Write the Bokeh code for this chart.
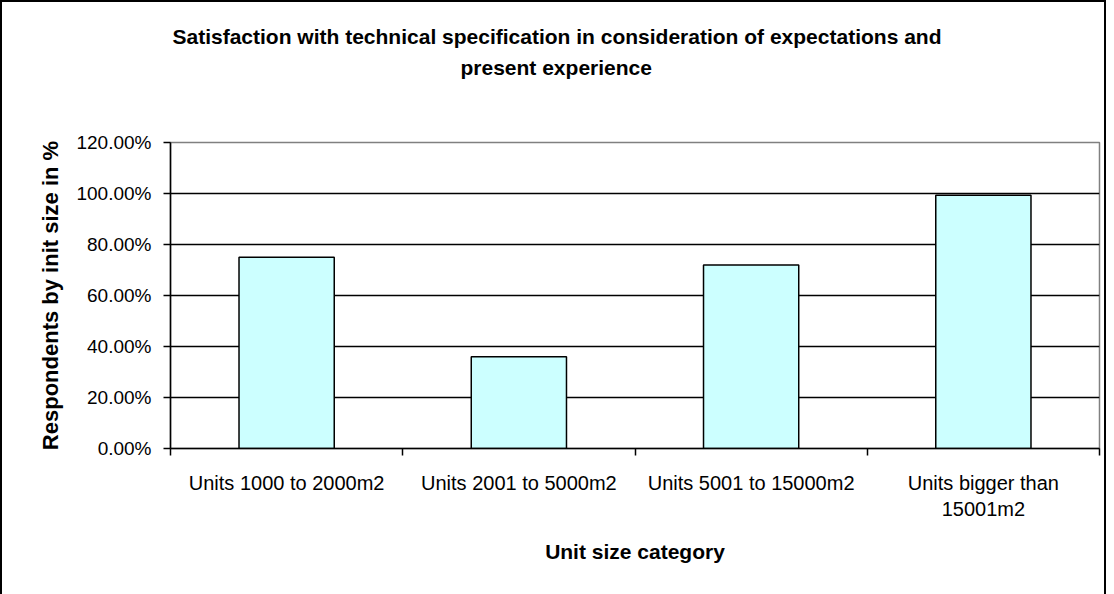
from bokeh.plotting import figure
from bokeh.models import Range1d, FixedTicker, NumeralTickFormatter, Title
from bokeh.embed import file_html
from bokeh.resources import INLINE

categories = ["Units 1000 to 2000m2", "Units 2001 to 5000m2", "Units 5001 to 15000m2", "Units bigger than\n15001m2"]
values = [0.75, 0.36, 0.72, 0.993]
y_ticks = [0.0, 0.2, 0.4, 0.6, 0.8, 1.0, 1.2]
title_lines = ["Satisfaction with technical specification in consideration of expectations and", "present experience"]
x_title = "Unit size category"
y_title = "Respondents by init size in %"

FONT = "Liberation Sans"

xs = [i + 0.5 for i in range(len(categories))]
y_max = y_ticks[-1]

p = figure(width=1106, height=594, output_backend="svg", toolbar_location=None,
           x_range=Range1d(0, len(categories)), y_range=Range1d(0, y_max),
           min_border_left=170, min_border_right=7, min_border_top=142, min_border_bottom=146)
p.title = None
p.border_fill_alpha = 0
p.styles = {"background-color": "white",
            "box-shadow": "inset 2px 0 0 0 black, inset 0 2px 0 0 black, inset -2px 0 0 0 black"}

# titles: spacer closest to frame, then line 2, then line 1
spacer = Title(text=" ", text_font_size="1px", standoff=58)
t2 = Title(text=title_lines[1], align="left", offset=290, text_font=FONT, text_font_size="21px",
           text_font_style="bold", text_color="black", standoff=6)
t1 = Title(text=title_lines[0], align="left", offset=2, text_font=FONT, text_font_size="21px",
           text_font_style="bold", text_color="black", standoff=6)
p.add_layout(spacer, "above")
p.add_layout(t2, "above")
p.add_layout(t1, "above")

p.vbar(x=xs, top=values, width=0.41, fill_color="#CCFFFF", line_color="black", line_width=1.5)

p.background_fill_color = "white"
p.outline_line_color = "#808080"
p.outline_line_width = 1.5

# grid
p.xgrid.visible = False
p.ygrid.ticker = FixedTicker(ticks=y_ticks[1:-1])
p.ygrid.grid_line_color = "black"
p.ygrid.grid_line_width = 1.5

# y axis
yax = p.yaxis[0]
yax.ticker = FixedTicker(ticks=y_ticks)
yax.formatter = NumeralTickFormatter(format="0.00%")
yax.axis_line_color = "black"
yax.axis_line_width = 1.5
yax.major_tick_in = 0
yax.major_tick_out = 7
yax.major_tick_line_width = 1.5
yax.minor_tick_line_color = None
yax.major_label_text_font = FONT
yax.major_label_text_font_size = "19px"
yax.major_label_text_color = "black"
yax.major_label_standoff = 12
yax.axis_label = y_title
yax.axis_label_text_font = FONT
yax.axis_label_text_font_size = "22px"
yax.axis_label_text_font_style = "bold"
yax.axis_label_text_color = "black"
yax.axis_label_standoff = 10

# x axis
xax = p.xaxis[0]
xax.ticker = FixedTicker(ticks=xs, minor_ticks=list(range(len(categories) + 1)))
xax.major_label_overrides = {x: c for x, c in zip(xs, categories)}
xax.axis_line_color = "black"
xax.axis_line_width = 1.5
xax.major_tick_line_color = None
xax.major_tick_in = 0
xax.major_tick_out = 0
xax.minor_tick_in = 0
xax.minor_tick_out = 7
xax.minor_tick_line_color = "black"
xax.minor_tick_line_width = 1.5
xax.major_label_text_font = FONT
xax.major_label_text_font_size = "20px"
xax.major_label_text_color = "black"
xax.major_label_standoff = 16
xax.axis_label = x_title
xax.axis_label_text_font = FONT
xax.axis_label_text_font_size = "21px"
xax.axis_label_text_font_style = "bold"
xax.axis_label_text_color = "black"
xax.axis_label_standoff = 17

open("out.html", "w").write(file_html(p, INLINE))
